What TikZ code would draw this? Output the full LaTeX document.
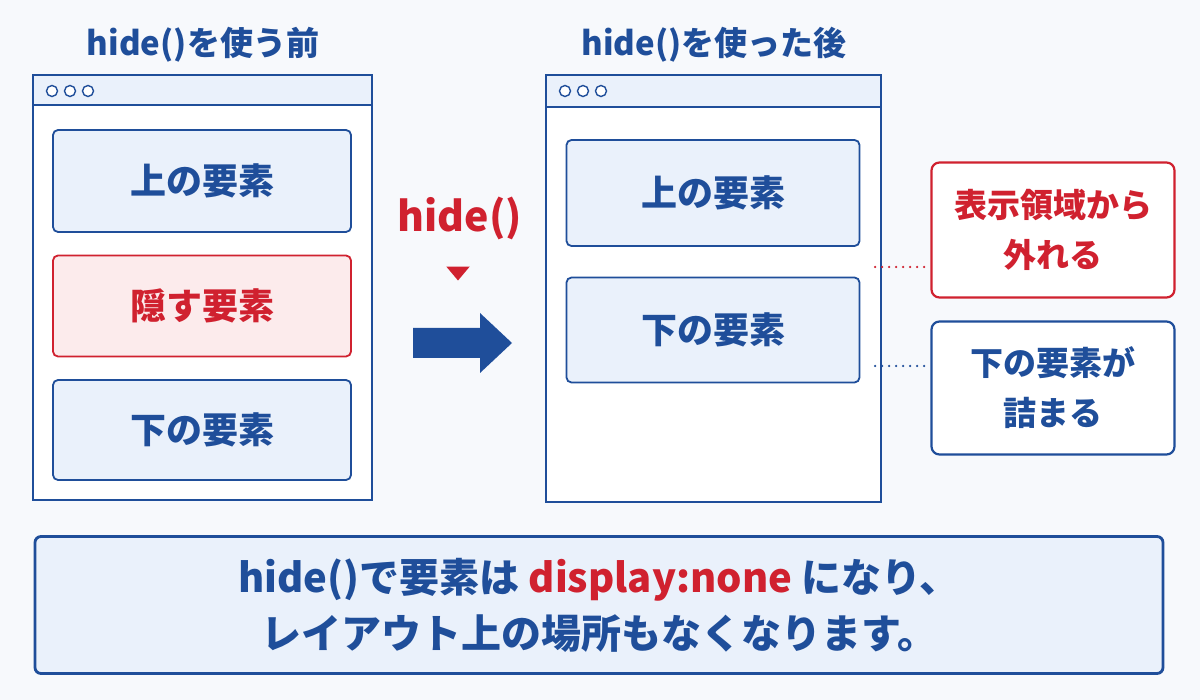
\documentclass[tikz,border=0pt]{standalone}
\usepackage{fontspec}
\setmainfont{Noto Sans CJK JP}
\usetikzlibrary{positioning, calc, shapes.geometric}
\definecolor{dblue}{HTML}{1F4E9A}
\definecolor{lblue}{HTML}{EAF1FB}
\definecolor{dred}{HTML}{D0212F}
\definecolor{lred}{HTML}{FCEBEC}
\definecolor{bg}{HTML}{F7F9FC}
\tikzset{
    win/.style={draw=dblue, line width=1.8pt, fill=white},
    bar/.style={draw=dblue, line width=1.8pt, fill=lblue},
    dot/.style={circle, draw=dblue, line width=1.4pt, fill=white, minimum size=11pt, inner sep=0pt},
    elem/.style={draw=dblue, line width=1.8pt, fill=lblue, rounded corners=5pt,
      font=\fontsize{36}{42}\selectfont\bfseries, text=dblue},
    elemred/.style={elem, draw=dred, fill=lred, text=dred},
    callout/.style={draw=dblue, line width=2.2pt, fill=white, rounded corners=8pt,
      font=\fontsize{33}{50}\selectfont\bfseries, text=dblue, align=center},
    title/.style={font=\fontsize{33}{38}\selectfont\bfseries, text=dblue},
}
\begin{document}
\begin{tikzpicture}[x=1pt, y=-1pt]
    \useasboundingbox[fill=bg] (0,0) rectangle (1200,700);

    % before
    \node[title] (t1) at (203,45) {hide()を使う前};
    \draw[win] (33,75) rectangle (372,500);
    \draw[bar] (33,75) rectangle (372,105);
    \foreach \x in {52,70,88} \node[dot] at (\x,91) {};
    \node[elem, minimum width=298pt, minimum height=102pt] (a1) at (202,181) {上の要素};
    \node[elemred, minimum width=298pt, minimum height=101pt] (a2) at (202,306) {隠す要素};
    \node[elem, minimum width=298pt, minimum height=100pt] (a3) at (202,430) {下の要素};

    % middle
    \node[font=\fontsize{41}{48}\selectfont\bfseries, text=dred] (h) at (460,218) {hide()};
    \node[isosceles triangle, isosceles triangle apex angle=80, shape border rotate=-90,
      fill=dred, inner sep=0pt, minimum width=22pt, minimum height=14pt] (tri) at (458,272) {};
    \fill[dblue] (413,328) -- (480,328) -- (480,313) -- (512,343) -- (480,373) -- (480,358) -- (413,358) -- cycle;

    % after
    \node[title] (t2) at (714,45) {hide()を使った後};
    \draw[win] (546,75) rectangle (881,502);
    \draw[bar] (546,75) rectangle (881,107);
    \foreach \x in {565,583,601} \node[dot] at (\x,91) {};
    \node[elem, minimum width=293pt, minimum height=106pt] (b1) at (713,193) {上の要素};
    \node[elem, minimum width=293pt, minimum height=105pt] (b2) at (713,330) {下の要素};

    % callouts
    \node[callout, draw=dred, text=dred, minimum width=243pt, minimum height=135pt] (c1) at (1053,230) {表示領域から\\外れる};
    \node[callout, minimum width=243pt, minimum height=133pt] (c2) at (1053,388) {下の要素が\\詰まる};
    \coordinate (d1) at (875,267);
    \coordinate (d2) at (875,366);
    \draw[dred, line width=2.5pt, line cap=round, dash pattern=on 0pt off 7pt] (d1) -- ($(c1.west |- d1)+(-4,0)$);
    \draw[dblue, line width=2.5pt, line cap=round, dash pattern=on 0pt off 7pt] (d2) -- ($(c2.west |- d2)+(-4,0)$);

    % summary
    \node[callout, line width=2.8pt, rounded corners=6pt, fill=lblue, minimum width=1128pt, minimum height=137pt,
      font=\fontsize{40}{56}\selectfont\bfseries] (s) at (599,605)
      {hide()で要素は \textcolor{dred}{display:none} になり、\\レイアウト上の場所もなくなります。};
\end{tikzpicture}
\end{document}
